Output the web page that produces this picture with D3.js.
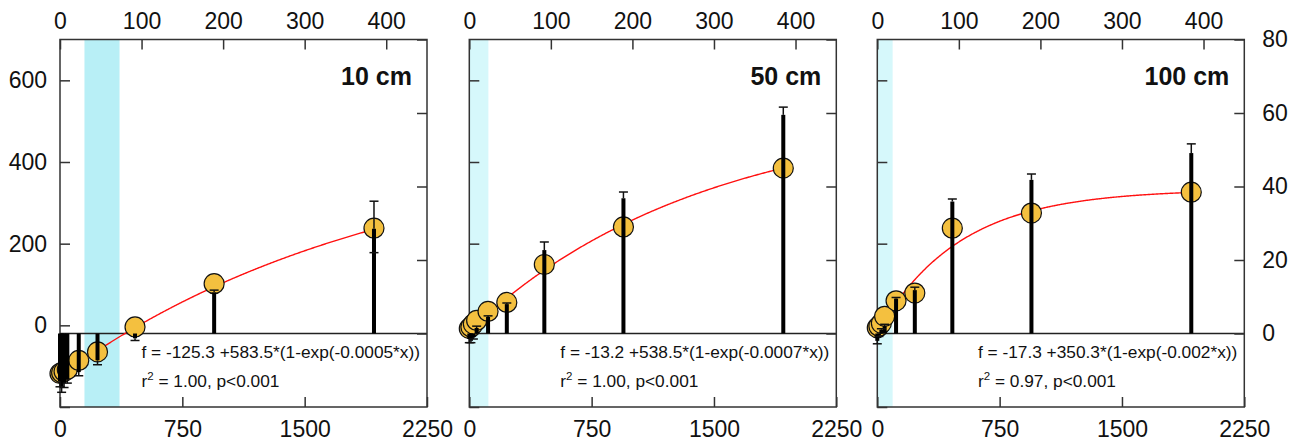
<!DOCTYPE html>
<html>
<head>
<meta charset="utf-8">
<script src="https://cdn.jsdelivr.net/npm/d3@7"></script>
<style>
  body { margin: 0; background: #fff; }
  text { font-family: "Liberation Sans", Arial, sans-serif; fill: #111; }
  .tick line { stroke: #333; stroke-width: 1.5; }
</style>
</head>
<body>
<div id="chart"></div>
<script>
// sampling points (bottom axis units)
var xVals = [0, 10, 25, 45, 115, 230, 460, 945, 1925];
var depthLabels = ["10 cm", "50 cm", "100 cm"];

// circles, read against the left axis
var circles10 = [-118, -116, -113, -108, -86, -65, -4, 102, 238];
var circles50 = [-8, -4, 3, 12, 34, 56, 149, 241, 385];
var circles100 = [-6, -2, 5, 22, 60, 79, 238, 275, 326];

// bars, read against the right axis, with error caps away from zero
var bars10 = [-13, -14.5, -13.5, -12.5, -10.5, -7.3, -1.3, 11.2, 28.5];
var barErr10 = [1.5, 1.5, 1.2, 1, 1, 1.2, 0.6, 0.6, 7.5];
var barLowErr10 = [0, 0, 0, 0, 0, 0, 0, 0, 6.5];
var bars50 = [-1.5, -2, -1, 1.5, 4.5, 8, 22.7, 36.8, 59.5];
var barErr50 = [1, 0.5, 0.5, 0.5, 0.3, 0.3, 2.2, 1.7, 2.1];
var barLowErr50 = [0, 0, 0, 0, 0, 0, 0, 0, 0];
var bars100 = [-2, -0.5, 1, 2, 9.5, 11.8, 35.9, 41.8, 49.1];
var barErr100 = [0.8, 0.3, 0.3, 0.5, 0.3, 0.8, 0.7, 1.6, 2.5];
var barLowErr100 = [0, 0, 0, 0, 0, 0, 0, 0, 0];

// shaded band (bottom axis units)
var bandStart = [150, 0, 0];
var bandEnd = [365, 117, 94];
var bandColors = ["#b8eff6", "#d6f8fb", "#d6f8fb"];

// fitted curve f = a + b*(1-exp(-k*x)) as printed on the chart
var fitA = [-125.3, -13.2, -17.3];
var fitB = [583.5, 538.5, 350.3];
var fitK = [0.0005, 0.0007, 0.002];
var fitR2 = ["1.00", "1.00", "0.97"];

// tick labels
var bottomTicks = [0, 750, 1500, 2250];
var topTicks = [0, 100, 200, 300, 400];
var leftTicks = [-200, 0, 200, 400, 600];
var rightTicks = [0, 20, 40, 60, 80];

var svgWidth = 1298;
var svgHeight = 444;
var panelLeft = [60, 469.3, 877.3];
var panelTop = 39.5;
var width = 367;
var height = 367.5;

var svg = d3.select("#chart")
  .append("svg")
  .attr("width", svgWidth)
  .attr("height", svgHeight);

// scales shared by all three panels
var xScale = d3.scaleLinear().domain([0, 2250]).range([0, width]);
var xTopScale = d3.scaleLinear().domain([0, 450]).range([0, width]);
var yLeft = d3.scaleLinear().domain([-200, 700]).range([height, 0]);
var yRight = d3.scaleLinear().domain([-20, 80]).range([height, 0]);

var panels = [
  { circles: circles10, bars: bars10, err: barErr10, lowErr: barLowErr10 },
  { circles: circles50, bars: bars50, err: barErr50, lowErr: barLowErr50 },
  { circles: circles100, bars: bars100, err: barErr100, lowErr: barLowErr100 }
];

panels.forEach(function(p, i) {
  var g = svg.append("g")
    .attr("transform", `translate(${panelLeft[i]}, ${panelTop})`);

  // shaded band
  g.append("rect")
    .attr("x", xScale(bandStart[i]))
    .attr("y", 0)
    .attr("width", xScale(bandEnd[i]) - xScale(bandStart[i]))
    .attr("height", height)
    .attr("fill", bandColors[i]);

  // zero line of the bar axis
  g.append("line")
    .attr("x1", 0).attr("x2", width)
    .attr("y1", yRight(0)).attr("y2", yRight(0))
    .attr("stroke", "#222")
    .attr("stroke-width", 1.5);

  // axes, ticks point inward
  var bottomAxis = d3.axisBottom(xScale).tickValues(bottomTicks).tickSize(-10).tickPadding(14)
    .tickFormat(d3.format("d"));
  var topAxis = d3.axisTop(xTopScale).tickValues(topTicks).tickSize(-10).tickPadding(11);
  var leftAxis = d3.axisLeft(yLeft).tickValues(leftTicks).tickSize(-10).tickPadding(13)
    .tickFormat(i > 0 ? () => "" : d => (d < 0 ? "" : d));
  var rightAxis = d3.axisRight(yRight).tickValues(rightTicks).tickSize(-10).tickPadding(18);
  if (i < 2) rightAxis.tickFormat("");

  g.append("g").attr("transform", `translate(0, ${height})`).call(bottomAxis);
  g.append("g").call(topAxis);
  g.append("g").call(leftAxis);
  g.append("g").attr("transform", `translate(${width}, 0)`).call(rightAxis);

  g.selectAll(".domain").remove();
  g.selectAll(".tick text")
    .attr("font-size", "23px")
    .attr("font-family", "Liberation Sans, Arial, sans-serif")
    .attr("fill", "#111");

  // frame
  g.append("rect")
    .attr("width", width)
    .attr("height", height)
    .attr("fill", "none")
    .attr("stroke", "#333")
    .attr("stroke-width", 1.5);

  // fitted curve
  var lastX = xVals[xVals.length - 1];
  var curveX = d3.range(0, lastX + 1, 5);
  var line = d3.line()
    .x(d => xScale(d))
    .y(d => yLeft(fitA[i] + fitB[i] * (1 - Math.exp(-fitK[i] * d))));
  g.append("path")
    .datum(curveX)
    .attr("d", line)
    .attr("fill", "none")
    .attr("stroke", "#ff1010")
    .attr("stroke-width", 1.4);

  var pts = xVals.map((x, j) => ({
    x: x, c: p.circles[j], b: p.bars[j], e: p.err[j], lo: p.lowErr[j]
  }));

  // circles
  g.selectAll("circle")
    .data(pts)
    .enter()
    .append("circle")
    .attr("cx", d => xScale(d.x))
    .attr("cy", d => yLeft(d.c))
    .attr("r", 10)
    .attr("fill", "#f4c03f")
    .attr("stroke", "#111")
    .attr("stroke-width", 1.2);

  // bars
  g.selectAll(".bar")
    .data(pts)
    .enter()
    .append("rect")
    .attr("class", "bar")
    .attr("x", d => xScale(d.x) - 2)
    .attr("y", d => yRight(Math.max(0, d.b)))
    .attr("width", 4)
    .attr("height", d => Math.abs(yRight(d.b) - yRight(0)))
    .attr("fill", "#000");

  // error bars
  var errG = g.selectAll(".err")
    .data(pts)
    .enter()
    .append("g")
    .attr("class", "err")
    .attr("stroke", "#111")
    .attr("stroke-width", 1.5);

  errG.append("line")
    .attr("x1", d => xScale(d.x)).attr("x2", d => xScale(d.x))
    .attr("y1", d => yRight(d.b))
    .attr("y2", d => yRight(d.b + Math.sign(d.b) * d.e));

  errG.append("line")
    .attr("x1", d => xScale(d.x) - 4.5).attr("x2", d => xScale(d.x) + 4.5)
    .attr("y1", d => yRight(d.b + Math.sign(d.b) * d.e))
    .attr("y2", d => yRight(d.b + Math.sign(d.b) * d.e));

  errG.filter(d => d.lo > 0)
    .append("line")
    .attr("x1", d => xScale(d.x) - 4.5).attr("x2", d => xScale(d.x) + 4.5)
    .attr("y1", d => yRight(d.b - d.lo))
    .attr("y2", d => yRight(d.b - d.lo));

  // depth label
  g.append("text")
    .attr("x", 352)
    .attr("y", 45.5)
    .attr("text-anchor", "end")
    .attr("font-size", "25px")
    .attr("font-weight", "bold")
    .text(depthLabels[i]);

  // equation
  var eq = g.append("text")
    .attr("x", width - 7)
    .attr("y", 318.5)
    .attr("text-anchor", "end")
    .attr("font-size", "17.3px")
    .text(`f = ${fitA[i]} +${fitB[i]}*(1-exp(-${fitK[i]}*x))`);
  var eqStart = width - 7 - eq.node().getComputedTextLength();

  var r2 = g.append("text")
    .attr("x", eqStart)
    .attr("y", 347)
    .attr("font-size", "17.3px");
  r2.append("tspan").text("r");
  r2.append("tspan").attr("dy", -7).attr("font-size", "11.5px").text("2");
  r2.append("tspan").attr("dy", 7).text(` = ${fitR2[i]}, p<0.001`);
});
</script>
</body>
</html>
